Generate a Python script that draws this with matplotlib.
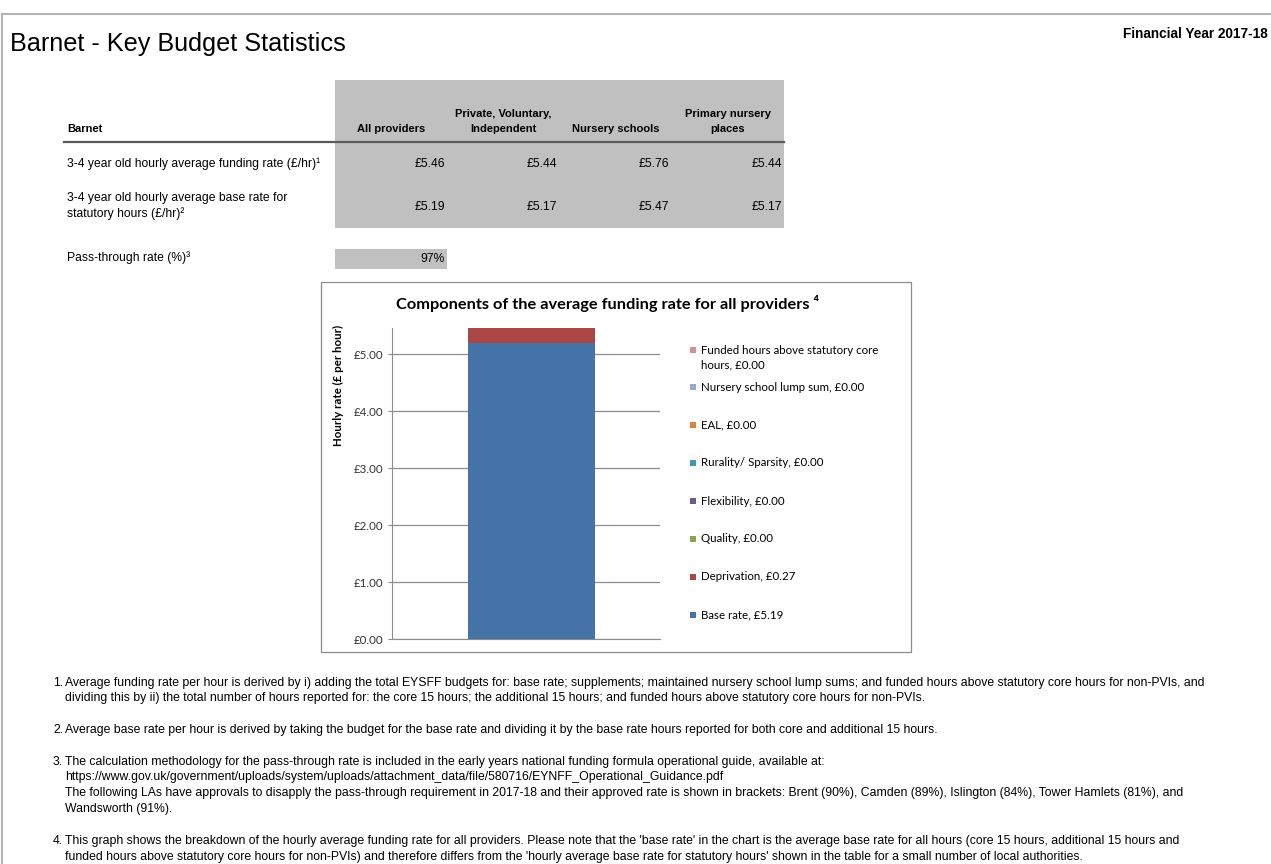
import matplotlib
matplotlib.use("Agg")
import matplotlib.pyplot as plt
from matplotlib.patches import Rectangle
from matplotlib.lines import Line2D

# table data
providers = ["All providers", "Private, Voluntary,\nIndependent", "Nursery schools", "Primary nursery\nplaces"]
funding_rate = [5.46, 5.44, 5.76, 5.44]
base_rate = [5.19, 5.17, 5.47, 5.17]
pass_through = 97

# chart components (bottom to top of the stack)
components = ["Base rate", "Deprivation", "Quality", "Flexibility", "Rurality/ Sparsity", "EAL",
              "Nursery school lump sum", "Funded hours above statutory core\nhours"]
component_values = [5.19, 0.27, 0.00, 0.00, 0.00, 0.00, 0.00, 0.00]
component_colors = ["#4572A7", "#AA4643", "#89A54E", "#71588F", "#4198AF", "#DB843D", "#93A9CF", "#D19392"]
yticks = [0, 1, 2, 3, 4, 5]

W, H = 1271, 864
fig = plt.figure(figsize=(W / 100, H / 100), dpi=100)
fig.patch.set_facecolor("white")

ARIAL = ["Liberation Sans", "DejaVu Sans"]
CAL = ["Lato", "DejaVu Sans"]


def fx(x):
    return x / W


def fy(y):
    return 1 - y / H


def T(x, y, s, **kw):
    kw.setdefault("family", ARIAL)
    kw.setdefault("va", "center")
    return fig.text(fx(x), fy(y), s, **kw)


def box(x0, y0, x1, y1, **kw):
    kw.setdefault("zorder", -1)
    fig.add_artist(Rectangle((fx(x0), fy(y1)), fx(x1 - x0), (y1 - y0) / H,
                             transform=fig.transFigure, **kw))


def line(x0, y0, x1, y1, **kw):
    fig.add_artist(Line2D([fx(x0), fx(x1)], [fy(y0), fy(y1)], transform=fig.transFigure, **kw))


# page border
line(2, 14, 1271, 14, color="#b4b4b4", lw=1.5)
line(2, 14, 2, 864, color="#b4b4b4", lw=1.5)

# headings
T(10, 44, "Barnet - Key Budget Statistics", fontsize=18.2)
T(1268, 34, "Financial Year 2017-18", fontsize=9.8, fontweight="bold", ha="right")

# table
box(335, 80, 784, 228, facecolor="#c0c0c0", edgecolor="none")
box(335, 249, 447, 269, facecolor="#c0c0c0", edgecolor="none")
line(64, 142, 784, 142, color="#5a5a5a", lw=1.6)

T(67, 129, "Barnet", fontsize=8, fontweight="bold")
col_centers = [391, 503, 616, 728]
col_rights = [445, 557, 669, 782]
for cx, name in zip(col_centers, providers):
    parts = name.split("\n")
    if len(parts) == 2:
        T(cx, 114, parts[0], fontsize=8, fontweight="bold", ha="center")
        T(cx, 129, parts[1], fontsize=8, fontweight="bold", ha="center")
    else:
        T(cx, 129, name, fontsize=8, fontweight="bold", ha="center")

T(67, 164, "3-4 year old hourly average funding rate (£/hr)\u00b9", fontsize=8.7)
T(67, 198, "3-4 year old hourly average base rate for", fontsize=8.7)
T(67, 214, "statutory hours (£/hr)\u00b2", fontsize=8.7)
T(67, 258, "Pass-through rate (%)\u00b3", fontsize=8.7)
for xr, f, b in zip(col_rights, funding_rate, base_rate):
    T(xr, 164, f"£{f:.2f}", fontsize=8.7, ha="right")
    T(xr, 207, f"£{b:.2f}", fontsize=8.7, ha="right")
T(445, 259, f"{pass_through}%", fontsize=8.7, ha="right")

# chart frame
box(321, 282, 911, 652, facecolor="white", edgecolor="#8c8c8c", lw=0.9)
T(608, 304, "Components of the average funding rate for all providers \u2074", fontsize=11.8,
  fontweight="bold", ha="center", family=CAL)

ax = fig.add_axes([fx(392), fy(639), fx(660 - 392), (639 - 328) / H])
bottom = 0
for name, v, c in zip(components, component_values, component_colors):
    ax.bar(0, v, width=0.474, bottom=bottom, color=c, zorder=3)
    bottom += v
ax.set_xlim(-0.52, 0.48)
ax.set_ylim(0, sum(component_values))
ax.set_yticks(yticks)
ax.set_yticklabels([f"£{t:.2f}" for t in yticks], family=CAL, fontsize=8.3, color="#333333")
ax.set_xticks([])
ax.grid(axis="y", color="#8c8c8c", lw=0.9, zorder=0)
for s in ["top", "right"]:
    ax.spines[s].set_visible(False)
ax.spines["left"].set_color("#8c8c8c")
ax.spines["bottom"].set_color("#8c8c8c")
ax.tick_params(axis="y", length=3, color="#8c8c8c", pad=3)
ax.set_facecolor("none")

T(338, 385, "Hourly rate (£ per hour)", fontsize=8.3, fontweight="bold", rotation=90, ha="center", family=CAL)

# legend (top entry is the last component)
leg_y = [350, 387, 425, 463, 501, 539, 577, 615]
for yy, name, v, c in zip(leg_y, components[::-1], component_values[::-1], component_colors[::-1]):
    box(690, yy - 3, 696, yy + 3, facecolor=c, edgecolor="none", zorder=1)
    label = f"{name}, £{v:.2f}"
    for k, ln in enumerate(label.split("\n")):
        T(701, yy + 15 * k, ln, fontsize=8.3, family=CAL)

# footnotes
notes = [
    (683, 53, "1."), (683, 65, "Average funding rate per hour is derived by i) adding the total EYSFF budgets for: base rate; supplements; maintained nursery school lump sums; and funded hours above statutory core hours for non-PVIs, and"),
    (698, 65, "dividing this by ii) the total number of hours reported for: the core 15 hours; the additional 15 hours; and funded hours above statutory core hours for non-PVIs."),
    (730, 53, "2."), (730, 65, "Average base rate per hour is derived by taking the budget for the base rate and dividing it by the base rate hours reported for both core and additional 15 hours."),
    (762, 53, "3."), (762, 65, "The calculation methodology for the pass-through rate is included in the early years national funding formula operational guide, available at:"),
    (777, 65, "https://www.gov.uk/government/uploads/system/uploads/attachment_data/file/580716/EYNFF_Operational_Guidance.pdf"),
    (793, 65, "The following LAs have approvals to disapply the pass-through requirement in 2017-18 and their approved rate is shown in brackets: Brent (90%), Camden (89%), Islington (84%), Tower Hamlets (81%), and"),
    (809, 65, "Wandsworth (91%)."),
    (841, 53, "4."), (841, 65, "This graph shows the breakdown of the hourly average funding rate for all providers. Please note that the 'base rate' in the chart is the average base rate for all hours (core 15 hours, additional 15 hours and"),
    (857, 65, "funded hours above statutory core hours for non-PVIs) and therefore differs from the 'hourly average base rate for statutory hours' shown in the table for a small number of local authorities."),
]
for yy, xx, s in notes:
    T(xx, yy, s, fontsize=8.8)

fig.savefig("out.png", dpi=100)
